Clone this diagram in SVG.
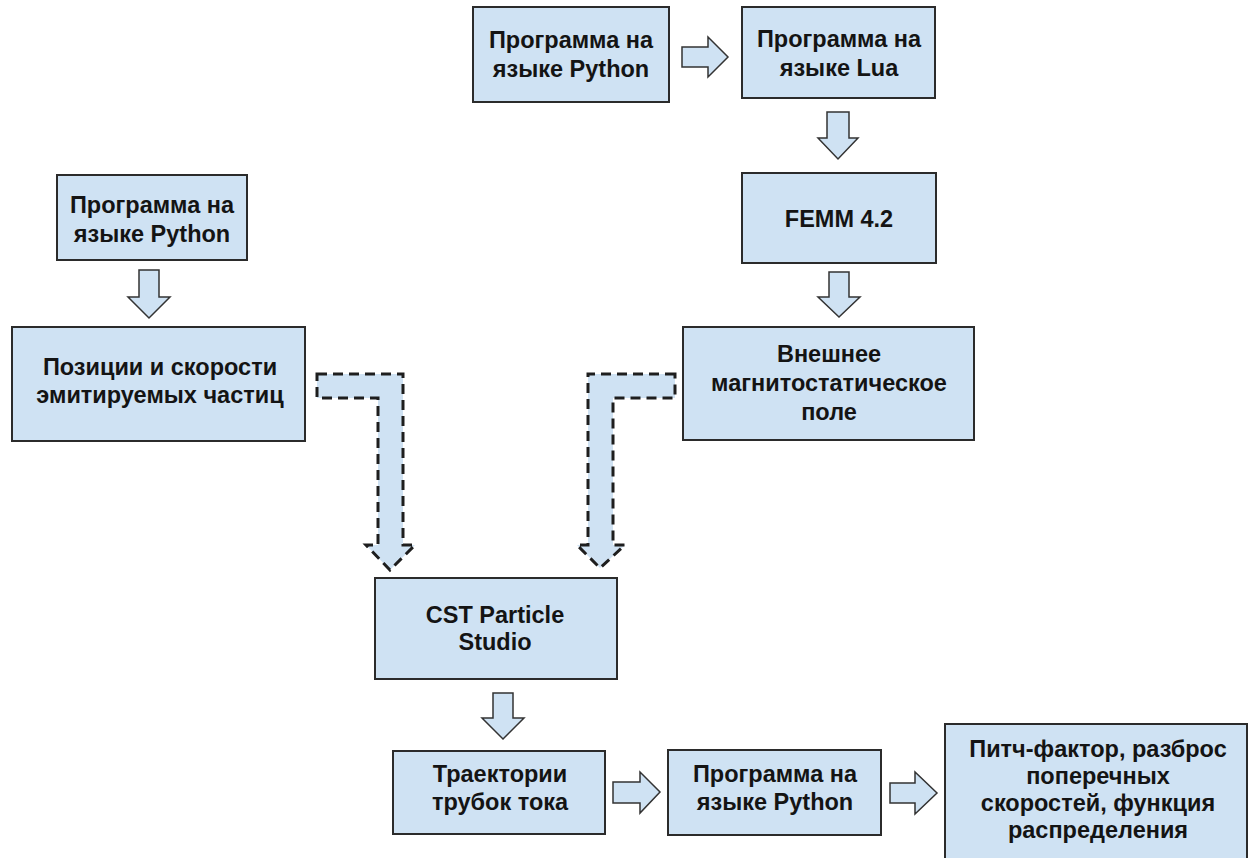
<svg xmlns="http://www.w3.org/2000/svg" width="1249" height="858" viewBox="0 0 1249 858">
<style>
.box{fill:#cfe2f3;stroke:#2b2b2b;stroke-width:2}
.arr{fill:#cfe2f3;stroke:#333;stroke-width:1.5;stroke-linejoin:miter}
.dash{fill:#cfe2f3;stroke:#1e1e1e;stroke-width:3;stroke-dasharray:10 6}
text{font-family:"Liberation Sans",Arial,sans-serif;font-weight:bold;font-size:23.5px;fill:#141414;text-anchor:middle}
</style>
<rect width="1249" height="858" fill="#fff"/>
<g id="connectors">
<path class="arr" d="M682,47 H708 V37 L728,57 L708,77 V67 H682 Z"/>
<path class="arr" d="M827,112 H849 V138 H858 L838,159 L818,138 H827 Z"/>
<path class="arr" d="M829,272 H849 V297 H860 L839,317 L818,297 H829 Z"/>
<path class="arr" d="M139,270 H159 V297 H170 L149,318 L128,297 H139 Z"/>
<path class="arr" d="M493,693 H513 V718 H524 L503,739 L482,718 H493 Z"/>
<path class="arr" d="M613,782 H640 V772 L660,792 L640,813 V803 H613 Z"/>
<path class="arr" d="M890,783 H915 V772 L937,793 L915,814 V803 H890 Z"/>
<path class="dash" d="M317,374 H403 V545 H415 L390,570 L366,545 H378 V398 H317 Z"/>
<path class="dash" d="M675,374 H588 V545 H577 L600,568 L625,545 H613 V398 H675 Z"/>
</g>
<g id="python1">
<rect class="box" x="473" y="7" width="196" height="95"/>
<text x="571" y="48">Программа на</text>
<text x="571" y="77">языке Python</text>
</g>
<g id="lua">
<rect class="box" x="742" y="7" width="193" height="91"/>
<text x="839" y="47">Программа на</text>
<text x="839" y="76">языке Lua</text>
</g>
<g id="femm">
<rect class="box" x="742" y="173" width="194" height="90"/>
<text x="839" y="227">FEMM 4.2</text>
</g>
<g id="field">
<rect class="box" x="683" y="327" width="291" height="113"/>
<text x="829" y="362">Внешнее</text>
<text x="829" y="391">магнитостатическое</text>
<text x="829" y="420">поле</text>
</g>
<g id="python2">
<rect class="box" x="57" y="175" width="190" height="85"/>
<text x="152" y="213">Программа на</text>
<text x="152" y="242">языке Python</text>
</g>
<g id="positions">
<rect class="box" x="12" y="327" width="293" height="114"/>
<text x="160" y="375">Позиции и скорости</text>
<text x="160" y="403">эмитируемых частиц</text>
</g>
<g id="cst">
<rect class="box" x="375" y="578" width="242" height="101"/>
<text x="495" y="623">CST Particle</text>
<text x="495" y="650">Studio</text>
</g>
<g id="trajectories">
<rect class="box" x="393" y="751" width="212" height="83"/>
<text x="500" y="782">Траектории</text>
<text x="500" y="810">трубок тока</text>
</g>
<g id="python3">
<rect class="box" x="668" y="750" width="213" height="85"/>
<text x="775" y="782">Программа на</text>
<text x="775" y="810">языке Python</text>
</g>
<g id="result">
<rect class="box" x="945" y="724" width="302" height="150"/>
<text x="1098" y="757">Питч-фактор, разброс</text>
<text x="1098" y="784">поперечных</text>
<text x="1098" y="811">скоростей, функция</text>
<text x="1098" y="838">распределения</text>
</g>
</svg>
